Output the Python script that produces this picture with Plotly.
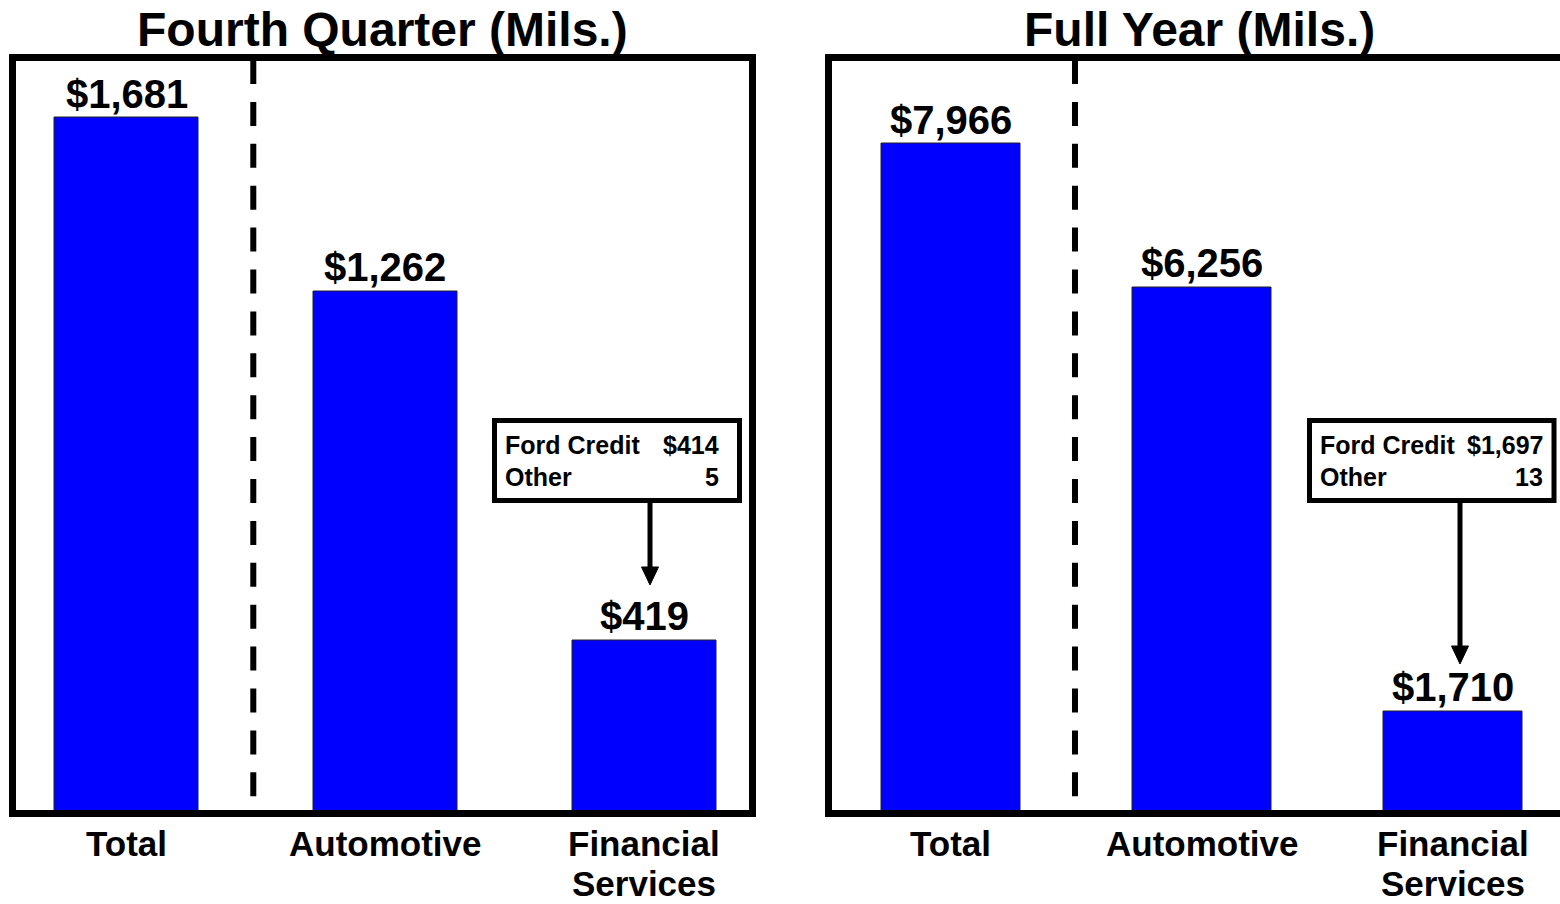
import plotly.graph_objects as go

W, H = 1560, 904

# ---------------- data ----------------
categories = ["Total", "Automotive", "Financial<br>Services"]
titles = ["Fourth Quarter (Mils.)", "Full Year (Mils.)"]

q4_values = [1681, 1262, 419]
q4_labels = ["$1,681", "$1,262", "$419"]

fy_values = [7966, 6256, 1710]
# bar heights as drawn in the source picture (its Financial Services bar is drawn short)
fy_bar_heights = [7966, 6256, 1219]
fy_labels = ["$7,966", "$6,256", "$1,710"]

breakdown_names = ["Ford Credit", "Other"]
q4_breakdown = ["$414", "5"]
fy_breakdown = ["$1,697", "13"]

# ---------------- helpers ----------------
FONT = "Liberation Sans, Arial, Helvetica, sans-serif"
BLUE = "#0000FF"


def px(x):
    return x / W


def py(y):
    return 1 - y / H


fig = go.Figure()

fig.add_trace(go.Bar(
    x=[0, 1, 2], y=q4_values, width=0.5565,
    marker=dict(color=BLUE, line=dict(color="#222222", width=1)),
    xaxis="x", yaxis="y", showlegend=False, hoverinfo="skip",
))
fig.add_trace(go.Bar(
    x=[0, 1, 2], y=fy_bar_heights, width=0.5527,
    marker=dict(color=BLUE, line=dict(color="#222222", width=1)),
    xaxis="x2", yaxis="y2", showlegend=False, hoverinfo="skip",
))

ax_common = dict(showgrid=False, zeroline=False, showticklabels=False,
                 showline=False, ticks="", fixedrange=True)
ydom = [py(813.5), py(57.5)]

fig.update_layout(
    width=W, height=H,
    margin=dict(l=0, r=0, t=0, b=0),
    paper_bgcolor="white", plot_bgcolor="white",
    font=dict(family=FONT, color="black"),
    bargap=0,
    xaxis=dict(domain=[px(12.5), px(752.5)], range=[-0.4406, 2.4193], **ax_common),
    yaxis=dict(domain=ydom, range=[0, 1826.5], **ax_common),
    xaxis2=dict(domain=[px(828.5), 1.0], range=[-0.4851, 2.4235], anchor="y2", **ax_common),
    yaxis2=dict(domain=ydom, range=[0, 8991], anchor="x2", **ax_common),
)

shapes = []
annotations = []

panels = [
    dict(xr="x", yr="y", box=(12.5, 752.5), vals=q4_values, labels=q4_labels,
         heights=q4_values, title=titles[0], tcx=382.5, dashx=0.49,
         bbox=(494.5, 739.5), txt=(503, 721), arrowx=650, tip=585, brk=q4_breakdown),
    dict(xr="x2", yr="y2", box=(828.5, 1569), vals=fy_values, labels=fy_labels,
         heights=fy_bar_heights, title=titles[1], tcx=1199, dashx=0.495,
         bbox=(1309.5, 1554), txt=(1318, 1545), arrowx=1460, tip=664, brk=fy_breakdown),
]

for p in panels:
    # frame
    shapes.append(dict(type="rect", xref="paper", yref="paper",
                       x0=px(p["box"][0]), x1=px(p["box"][1]), y0=py(813.5), y1=py(57.5),
                       line=dict(color="black", width=7), fillcolor="rgba(0,0,0,0)", layer="above"))
    # dashed separator
    shapes.append(dict(type="line", xref=p["xr"], yref="paper",
                       x0=p["dashx"], x1=p["dashx"], y0=py(60), y1=py(810),
                       line=dict(color="black", width=6, dash="24px,17.9px"), layer="above"))
    # title
    annotations.append(dict(xref="paper", yref="paper", x=px(p["tcx"]), y=py(30),
                            xanchor="center", yanchor="middle", showarrow=False,
                            text="<b>%s</b>" % p["title"], font=dict(size=48, family=FONT)))
    # value labels
    for i, (h, lab) in enumerate(zip(p["heights"], p["labels"])):
        annotations.append(dict(xref=p["xr"], yref=p["yr"], x=i, y=h,
                                xanchor="center", yanchor="bottom", showarrow=False,
                                yshift=1, borderpad=0,
                                text="<b>%s</b>" % lab, font=dict(size=40, family=FONT)))
    # category labels (each line placed separately)
    for i, c in enumerate(categories):
        for k, line in enumerate(c.split("<br>")):
            annotations.append(dict(xref=p["xr"], yref="paper", x=i, y=py(823 + 40 * k),
                                    xanchor="center", yanchor="top", showarrow=False,
                                    borderpad=0,
                                    text="<b>%s</b>" % line, font=dict(size=35, family=FONT)))
    # breakdown box
    bx0, bx1 = p["bbox"]
    shapes.append(dict(type="rect", xref="paper", yref="paper",
                       x0=px(bx0), x1=px(bx1), y0=py(420.5), y1=py(500.5),
                       line=dict(color="black", width=5), fillcolor="white", layer="above"))
    for j, (nm, v) in enumerate(zip(breakdown_names, p["brk"])):
        yc = 445 + 32 * j
        annotations.append(dict(xref="paper", yref="paper", x=px(p["txt"][0]), y=py(yc),
                                xanchor="left", yanchor="middle", showarrow=False,
                                text="<b>%s</b>" % nm, font=dict(size=25, family=FONT)))
        annotations.append(dict(xref="paper", yref="paper", x=px(p["txt"][1]), y=py(yc),
                                xanchor="right", yanchor="middle", showarrow=False,
                                text="<b>%s</b>" % v, font=dict(size=25, family=FONT)))
    # arrow
    ax_ = p["arrowx"]
    tip = p["tip"]
    shapes.append(dict(type="line", xref="paper", yref="paper",
                       x0=px(ax_), x1=px(ax_), y0=py(503), y1=py(tip - 15),
                       line=dict(color="black", width=5), layer="above"))
    shapes.append(dict(type="path", xref="paper", yref="paper",
                       path="M %f,%f L %f,%f L %f,%f Z" % (px(ax_ - 8.5), py(tip - 18),
                                                          px(ax_ + 8.5), py(tip - 18),
                                                          px(ax_), py(tip)),
                       line=dict(color="black", width=1), fillcolor="black", layer="above"))

fig.update_layout(shapes=shapes, annotations=annotations)

fig.write_html("out.html", config={"displayModeBar": False},
               post_script="document.body.style.margin='0';document.body.style.overflow='hidden';")
